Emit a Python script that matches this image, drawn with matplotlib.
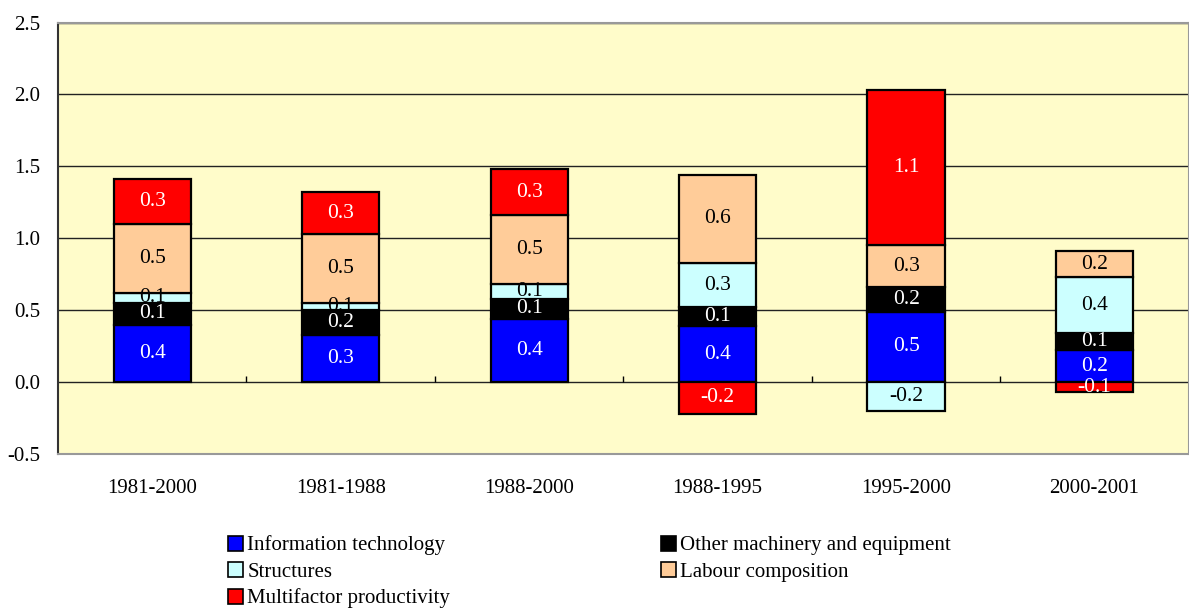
import matplotlib.pyplot as plt
import numpy as np
from matplotlib.patches import Patch

plt.rcParams['font.family'] = ['Liberation Serif', 'DejaVu Serif']

# Data
categories = ["1981-2000", "1981-1988", "1988-2000", "1988-1995", "1995-2000", "2000-2001"]
it_vals = [0.40, 0.33, 0.44, 0.39, 0.49, 0.22]
other_vals = [0.15, 0.17, 0.14, 0.13, 0.17, 0.12]
struct_vals = [0.07, 0.05, 0.10, 0.31, -0.20, 0.39]
labour_vals = [0.48, 0.48, 0.48, 0.61, 0.29, 0.18]
mfp_vals = [0.31, 0.29, 0.32, -0.22, 1.08, -0.07]

series = [
    ("Information technology", it_vals, "#0000FF", "white"),
    ("Other machinery and equipment", other_vals, "#000000", "white"),
    ("Structures", struct_vals, "#CCFFFF", "black"),
    ("Labour composition", labour_vals, "#FFCC99", "black"),
    ("Multifactor productivity", mfp_vals, "#FF0000", "white"),
]

fig = plt.figure(figsize=(11.89, 6.10), dpi=100)
ax = fig.add_axes([0.0488, 0.2557, 0.951, 0.7073])
ax.set_facecolor("#FFFCCA")

x = np.arange(len(categories))
pos_base = np.zeros(len(categories))
neg_base = np.zeros(len(categories))
width = 0.41

for name, vals, color, tcol in series:
    vals = np.array(vals)
    bottoms = np.where(vals >= 0, pos_base, neg_base)
    ax.bar(x, vals, width, bottom=bottoms, color=color, edgecolor="black",
           linewidth=1.6, zorder=3)
    # value labels in the middle of each segment (small ones overlap, as in the original)
    for xi, b, v in zip(x, bottoms, vals):
        ax.text(xi, b + v / 2, f"{v:.1f}", ha="center", va="center",
                color=tcol, fontsize=15.5, zorder=4)
    pos_base = pos_base + np.where(vals >= 0, vals, 0)
    neg_base = neg_base + np.where(vals < 0, vals, 0)

ax.set_ylim(-0.5, 2.5)
ax.set_xlim(-0.5, len(categories) - 0.5)
ax.set_yticks(np.arange(-0.5, 2.51, 0.5))
ax.set_yticklabels([f"{v:.1f}" for v in np.arange(-0.5, 2.51, 0.5)])
ax.set_xticks(x)
ax.set_xticklabels(categories)
ax.tick_params(axis="x", length=0, pad=18, labelsize=15)
ax.tick_params(axis="y", length=0, pad=13, labelsize=15)
ax.yaxis.grid(True, color="#222222", linewidth=1.0, zorder=0)

# small category separators on the zero line
ax.vlines(np.arange(0.5, len(categories) - 0.5), 0, 0.04, color="black",
          linewidth=1.0, zorder=2)

for side in ["top", "right", "bottom"]:
    ax.spines[side].set_color("#999999")
    ax.spines[side].set_linewidth(1.5)
ax.spines["left"].set_color("#333333")
ax.spines["left"].set_linewidth(1.5)

handles = [Patch(facecolor=c, edgecolor="black", linewidth=1.2) for _, _, c, _ in series]
labels = [n for n, _, _, _ in series]
order = [0, 2, 4, 1, 3]
fig.legend([handles[i] for i in order], [labels[i] for i in order],
           loc="upper left", bbox_to_anchor=(0.192, 0.122), ncol=2, frameon=False,
           fontsize=15, handlelength=0.72, handleheight=0.72, handletextpad=0.2,
           columnspacing=10.1, labelspacing=0.32, borderaxespad=0, borderpad=0)

fig.savefig("out.png", dpi=100)
